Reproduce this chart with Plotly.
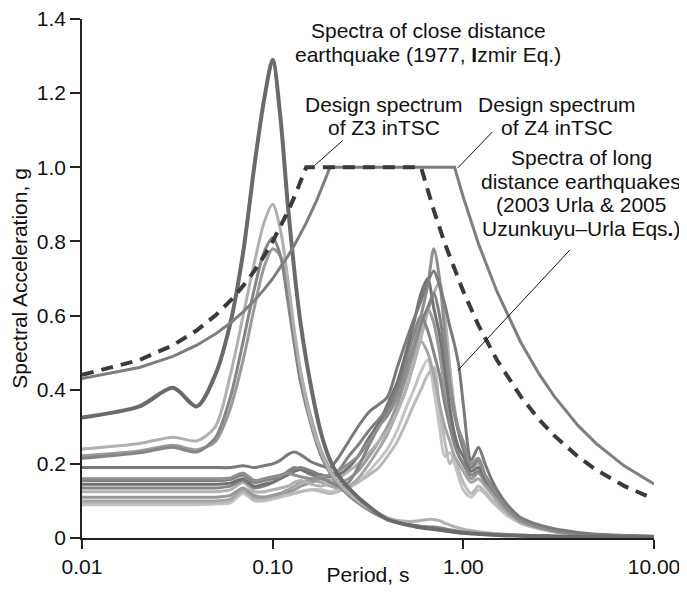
import plotly.graph_objects as go

# ---------------- data ----------------
periods = [0.01, 0.02, 0.03, 0.04, 0.05, 0.06, 0.07, 0.08, 0.09, 0.10,
           0.11, 0.12, 0.13, 0.14, 0.16, 0.18, 0.20, 0.22, 0.25, 0.28,
           0.32, 0.36, 0.40, 0.45, 0.50, 0.55, 0.60, 0.65, 0.70, 0.75,
           0.80, 0.85, 0.90, 0.95, 1.0, 1.1, 1.2, 1.3, 1.4, 1.5,
           1.7, 2.0, 2.5, 3.0, 4.0, 5.0, 7.0, 10.0]

# long distance earthquakes (2003 Urla & 2005 Uzunkuyu-Urla)
long_1 = [0.19,0.19,0.19,0.19,0.19,0.19,0.195,0.19,0.195,0.20,0.21,0.225,0.232,0.225,0.205,0.195,0.19,0.215,0.26,0.30,0.34,0.36,0.38,0.46,0.53,0.59,0.64,0.69,0.72,0.68,0.63,0.57,0.52,0.46,0.36,0.21,0.245,0.20,0.16,0.13,0.09,0.055,0.035,0.025,0.015,0.01,0.007,0.005]
long_2 = [0.16,0.16,0.16,0.16,0.16,0.162,0.175,0.155,0.16,0.165,0.17,0.175,0.17,0.165,0.16,0.165,0.17,0.18,0.20,0.22,0.26,0.30,0.33,0.38,0.45,0.52,0.60,0.68,0.78,0.70,0.55,0.42,0.34,0.29,0.26,0.20,0.215,0.17,0.14,0.12,0.08,0.05,0.03,0.02,0.013,0.009,0.006,0.004]
long_3 = [0.145,0.145,0.145,0.145,0.145,0.148,0.16,0.14,0.145,0.15,0.16,0.17,0.18,0.185,0.175,0.17,0.165,0.17,0.19,0.22,0.27,0.31,0.36,0.42,0.50,0.58,0.66,0.70,0.62,0.55,0.45,0.35,0.28,0.24,0.22,0.18,0.19,0.16,0.14,0.12,0.08,0.05,0.03,0.02,0.012,0.008,0.005,0.004]
long_4 = [0.125,0.125,0.125,0.125,0.125,0.13,0.15,0.125,0.125,0.13,0.135,0.14,0.15,0.155,0.145,0.14,0.15,0.16,0.18,0.20,0.23,0.26,0.29,0.34,0.40,0.47,0.54,0.61,0.66,0.69,0.60,0.46,0.35,0.28,0.24,0.19,0.20,0.165,0.14,0.12,0.08,0.05,0.03,0.02,0.012,0.008,0.005,0.004]
long_5 = [0.11,0.11,0.11,0.11,0.11,0.115,0.135,0.115,0.11,0.115,0.12,0.125,0.13,0.14,0.15,0.16,0.155,0.15,0.16,0.18,0.22,0.26,0.30,0.36,0.43,0.50,0.57,0.62,0.58,0.50,0.40,0.32,0.26,0.22,0.20,0.16,0.175,0.15,0.13,0.11,0.075,0.045,0.028,0.018,0.011,0.007,0.005,0.003]
long_6 = [0.135,0.135,0.135,0.135,0.135,0.14,0.155,0.135,0.14,0.15,0.165,0.18,0.19,0.185,0.17,0.16,0.15,0.14,0.15,0.19,0.25,0.30,0.34,0.40,0.48,0.55,0.60,0.56,0.50,0.44,0.36,0.30,0.25,0.22,0.20,0.17,0.18,0.155,0.135,0.115,0.08,0.05,0.03,0.02,0.012,0.008,0.005,0.004]
long_7 = [0.09,0.09,0.09,0.09,0.092,0.095,0.12,0.10,0.10,0.105,0.11,0.115,0.12,0.125,0.13,0.13,0.125,0.13,0.14,0.15,0.18,0.21,0.24,0.29,0.35,0.40,0.45,0.48,0.40,0.30,0.22,0.23,0.20,0.16,0.13,0.11,0.13,0.12,0.10,0.085,0.06,0.04,0.025,0.017,0.01,0.007,0.005,0.003]
long_8 = [0.10,0.10,0.10,0.10,0.10,0.105,0.13,0.11,0.11,0.115,0.12,0.13,0.14,0.15,0.155,0.15,0.14,0.135,0.14,0.16,0.20,0.24,0.28,0.34,0.40,0.47,0.53,0.50,0.44,0.36,0.30,0.26,0.22,0.20,0.18,0.15,0.16,0.14,0.12,0.10,0.07,0.045,0.028,0.018,0.011,0.007,0.005,0.003]
long_9 = [0.095,0.095,0.095,0.095,0.095,0.10,0.125,0.105,0.105,0.11,0.115,0.12,0.12,0.125,0.13,0.125,0.12,0.125,0.135,0.15,0.17,0.19,0.22,0.26,0.31,0.36,0.40,0.44,0.46,0.35,0.26,0.20,0.22,0.18,0.15,0.12,0.14,0.125,0.105,0.09,0.065,0.04,0.025,0.017,0.01,0.007,0.005,0.003]
long_10 = [0.155,0.155,0.155,0.155,0.155,0.158,0.17,0.15,0.155,0.16,0.165,0.175,0.185,0.19,0.18,0.17,0.165,0.18,0.22,0.25,0.29,0.32,0.35,0.40,0.46,0.52,0.58,0.62,0.66,0.60,0.50,0.40,0.33,0.28,0.24,0.19,0.21,0.17,0.145,0.12,0.085,0.05,0.03,0.02,0.013,0.009,0.006,0.004]

# close distance earthquake (1977 Izmir)
close_1 = [0.325,0.355,0.405,0.355,0.44,0.58,0.77,1.00,1.18,1.29,1.13,0.90,0.72,0.58,0.40,0.28,0.21,0.17,0.135,0.11,0.085,0.065,0.05,0.042,0.036,0.032,0.028,0.026,0.024,0.022,0.02,0.018,0.016,0.015,0.014,0.012,0.011,0.01,0.009,0.008,0.007,0.006,0.005,0.004,0.003,0.003,0.002,0.002]
close_2 = [0.24,0.255,0.272,0.262,0.30,0.44,0.60,0.74,0.85,0.90,0.83,0.70,0.56,0.45,0.31,0.23,0.18,0.15,0.12,0.10,0.08,0.065,0.055,0.048,0.045,0.045,0.047,0.05,0.05,0.047,0.04,0.035,0.03,0.027,0.024,0.02,0.017,0.015,0.013,0.012,0.01,0.008,0.006,0.005,0.004,0.003,0.002,0.002]
close_3 = [0.215,0.23,0.245,0.232,0.27,0.38,0.53,0.67,0.77,0.81,0.76,0.64,0.52,0.42,0.30,0.22,0.175,0.145,0.115,0.095,0.075,0.06,0.05,0.042,0.037,0.034,0.032,0.03,0.03,0.028,0.025,0.022,0.02,0.018,0.016,0.014,0.012,0.011,0.01,0.009,0.008,0.006,0.005,0.004,0.003,0.003,0.002,0.002]
close_4 = [0.222,0.235,0.25,0.238,0.26,0.35,0.48,0.62,0.73,0.78,0.76,0.67,0.55,0.45,0.32,0.235,0.185,0.15,0.12,0.10,0.08,0.064,0.052,0.044,0.038,0.034,0.031,0.029,0.027,0.025,0.023,0.021,0.019,0.017,0.015,0.013,0.012,0.011,0.01,0.009,0.008,0.006,0.005,0.004,0.003,0.003,0.002,0.002]

# design spectra (Turkish Seismic Code)
z3_periods = [0.01,0.02,0.03,0.04,0.05,0.06,0.07,0.08,0.09,0.10,0.12,0.13,0.15,0.60,0.70,0.80,1.0,1.2,1.5,2.0,2.5,3.0,4.0,5.0,7.0,10.0]
z3_sa = [0.44,0.48,0.52,0.56,0.60,0.64,0.68,0.72,0.76,0.80,0.88,0.92,1.0,1.0,0.884,0.794,0.665,0.574,0.480,0.382,0.319,0.276,0.219,0.183,0.140,0.105]
z4_periods = [0.01,0.02,0.03,0.04,0.05,0.06,0.07,0.08,0.09,0.10,0.12,0.13,0.15,0.17,0.20,0.90,1.0,1.2,1.5,2.0,2.5,3.0,4.0,5.0,7.0,10.0]
z4_sa = [0.43,0.46,0.49,0.52,0.55,0.58,0.61,0.64,0.67,0.70,0.76,0.79,0.85,0.91,1.0,1.0,0.919,0.794,0.665,0.528,0.442,0.382,0.303,0.254,0.194,0.146]

x_tick_vals = [0.01, 0.1, 1, 10]
x_tick_text = ["0.01", "0.10", "1.00", "10.00"]
y_tick_vals = [0, 0.2, 0.4, 0.6, 0.8, 1.0, 1.2, 1.4]
y_tick_text = ["0", "0.2", "0.4", "0.6", "0.8", "1.0", "1.2", "1.4"]

# ---------------- figure ----------------
FONT = "Liberation Sans, Arial, sans-serif"
FS = 21
TXT = "#111111"
fig = go.Figure()

long_series = [
    (long_7, "#c4c4c4"), (long_9, "#bababa"), (long_8, "#a6a6a6"),
    (long_5, "#999999"), (long_4, "#b2b2b2"), (long_6, "#858585"),
    (long_3, "#727272"), (long_10, "#808080"), (long_2, "#8e8e8e"),
    (long_1, "#7a7a7a"),
]
for vals, col in long_series:
    fig.add_trace(go.Scatter(x=periods, y=vals, mode="lines",
                             line=dict(color=col, width=3, shape="spline", smoothing=0.8),
                             showlegend=False, hoverinfo="skip"))

close_series = [
    (close_4, "#9a9a9a", 3), (close_3, "#858585", 3),
    (close_2, "#b0b0b0", 3), (close_1, "#6a6a6a", 4),
]
for vals, col, w in close_series:
    fig.add_trace(go.Scatter(x=periods, y=vals, mode="lines",
                             line=dict(color=col, width=w, shape="spline", smoothing=0.8),
                             showlegend=False, hoverinfo="skip"))

fig.add_trace(go.Scatter(x=z4_periods, y=z4_sa, mode="lines",
                         line=dict(color="#7e7e7e", width=3),
                         showlegend=False, hoverinfo="skip"))
fig.add_trace(go.Scatter(x=z3_periods, y=z3_sa, mode="lines",
                         line=dict(color="#3a3a3a", width=4, dash="12px,8px"),
                         showlegend=False, hoverinfo="skip"))

# ---------------- annotations (one per text line) ----------------
def ann_lines(x, ys, lines):
    for y, t in zip(ys, lines):
        fig.add_annotation(xref="paper", yref="paper", x=x, y=y, text=t,
                           showarrow=False, xanchor="center", yanchor="middle",
                           font=dict(family=FONT, size=FS, color=TXT))

ann_lines(0.605, [0.977, 0.931],
          ["Spectra of close distance", "earthquake (1977, <b>I</b>zmir Eq.)"])
ann_lines(0.528, [0.836, 0.791], ["Design spectrum", "of Z3 inTSC"])
ann_lines(0.830, [0.836, 0.791], ["Design spectrum", "of Z4 inTSC"])
ann_lines(0.873, [0.734, 0.687, 0.643, 0.597],
          ["Spectra of long", "distance earthquakes", "(2003 Urla &amp; 2005",
           "Uzunkuyu–Urla Eqs<b>.</b>)"])

for x0, y0, x1, y1 in [(0.456, 0.766, 0.407, 0.718),
                       (0.717, 0.782, 0.657, 0.713),
                       (0.853, 0.555, 0.657, 0.323)]:
    fig.add_shape(type="line", xref="paper", yref="paper",
                  x0=x0, y0=y0, x1=x1, y1=y1,
                  line=dict(color=TXT, width=1))

# the page body has an 8px margin, so the figure is sized/margined so that
# the plot area sits at x 82..654, y 19..538 of the 687x594 window
fig.update_layout(
    width=679, height=578,
    margin=dict(l=74, r=33, t=11, b=48, pad=0),
    paper_bgcolor="white", plot_bgcolor="white",
    font=dict(family=FONT, size=FS, color=TXT),
    showlegend=False,
)
fig.update_xaxes(type="log", range=[-2, 1], tickvals=x_tick_vals, ticktext=x_tick_text,
                 ticks="outside", ticklen=9, tickwidth=1.5, tickcolor="#222222",
                 showline=True, linecolor="#222222", linewidth=1.5,
                 showgrid=False, zeroline=False, automargin=False,
                 ticklabeloverflow="allow",
                 title=dict(text="Period, s", standoff=10,
                            font=dict(family=FONT, size=FS, color=TXT)),
                 tickfont=dict(family=FONT, size=FS, color=TXT))
fig.update_yaxes(range=[0, 1.4], tickvals=y_tick_vals, ticktext=y_tick_text,
                 ticks="outside", ticklen=10, tickwidth=1.5, tickcolor="#222222",
                 showline=True, linecolor="#222222", linewidth=1.5,
                 showgrid=False, zeroline=False, automargin=False,
                 ticklabeloverflow="allow",
                 title=dict(text="Spectral Acceleration, g", standoff=4,
                            font=dict(family=FONT, size=FS, color=TXT)),
                 tickfont=dict(family=FONT, size=FS, color=TXT))

fig.write_html("out.html")
